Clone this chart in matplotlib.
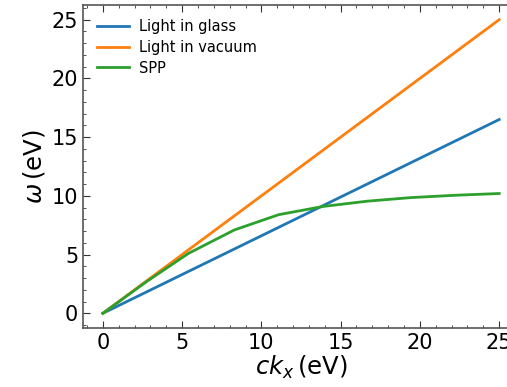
import numpy as np
import matplotlib
matplotlib.use("Agg")
import matplotlib.pyplot as plt

# light lines (end points) and SPP dispersion
k_light = [0, 25]
w_glass = [0, 16.5]
w_vacuum = [0, 25]

k_spp = [0, 2.78, 5.4, 8.3, 11.1, 13.9, 16.7, 19.4, 22.2, 25]
w_spp = [0, 2.72, 5.1, 7.1, 8.4, 9.1, 9.55, 9.85, 10.05, 10.2]

xticks = [0, 5, 10, 15, 20, 25]
yticks = [0, 5, 10, 15, 20, 25]

fig = plt.figure(figsize=(5.07, 3.87), dpi=100)
# axes run past the right edge, as in the reference crop
ax = fig.add_axes([83 / 507, 59 / 387, 436 / 507, 323 / 387])

ax.plot(k_light, w_glass, color="#1f77b4", lw=2, label="Light in glass")
ax.plot(k_light, w_vacuum, color="#ff7f0e", lw=2, label="Light in vacuum")
ax.plot(k_spp, w_spp, color="#2ca02c", lw=2, label="SPP")

ax.set_xlim(-1.25, 26.25)
ax.set_ylim(-1.25, 26.25)
ax.set_xticks(xticks)
ax.set_yticks(yticks)
ax.minorticks_on()
ax.tick_params(which="both", direction="in", top=True, right=True, labelsize=15, colors="#333333", labelcolor="black")
ax.tick_params(which="major", length=5)
ax.tick_params(which="minor", length=2.5)
for s in ax.spines.values():
    s.set_color("#555555")
    s.set_linewidth(1.2)

ax.set_xlabel(r"$ck_x\,$(eV)", fontsize=17.5, labelpad=1)
ax.set_ylabel(r"$\omega\,$(eV)", fontsize=17.5, labelpad=3)
ax.legend(loc="upper left", frameon=False, fontsize=10.5, handlelength=2.2,
          handletextpad=0.7, borderaxespad=0.55, labelspacing=0.4)

fig.savefig("out.png", dpi=100)
